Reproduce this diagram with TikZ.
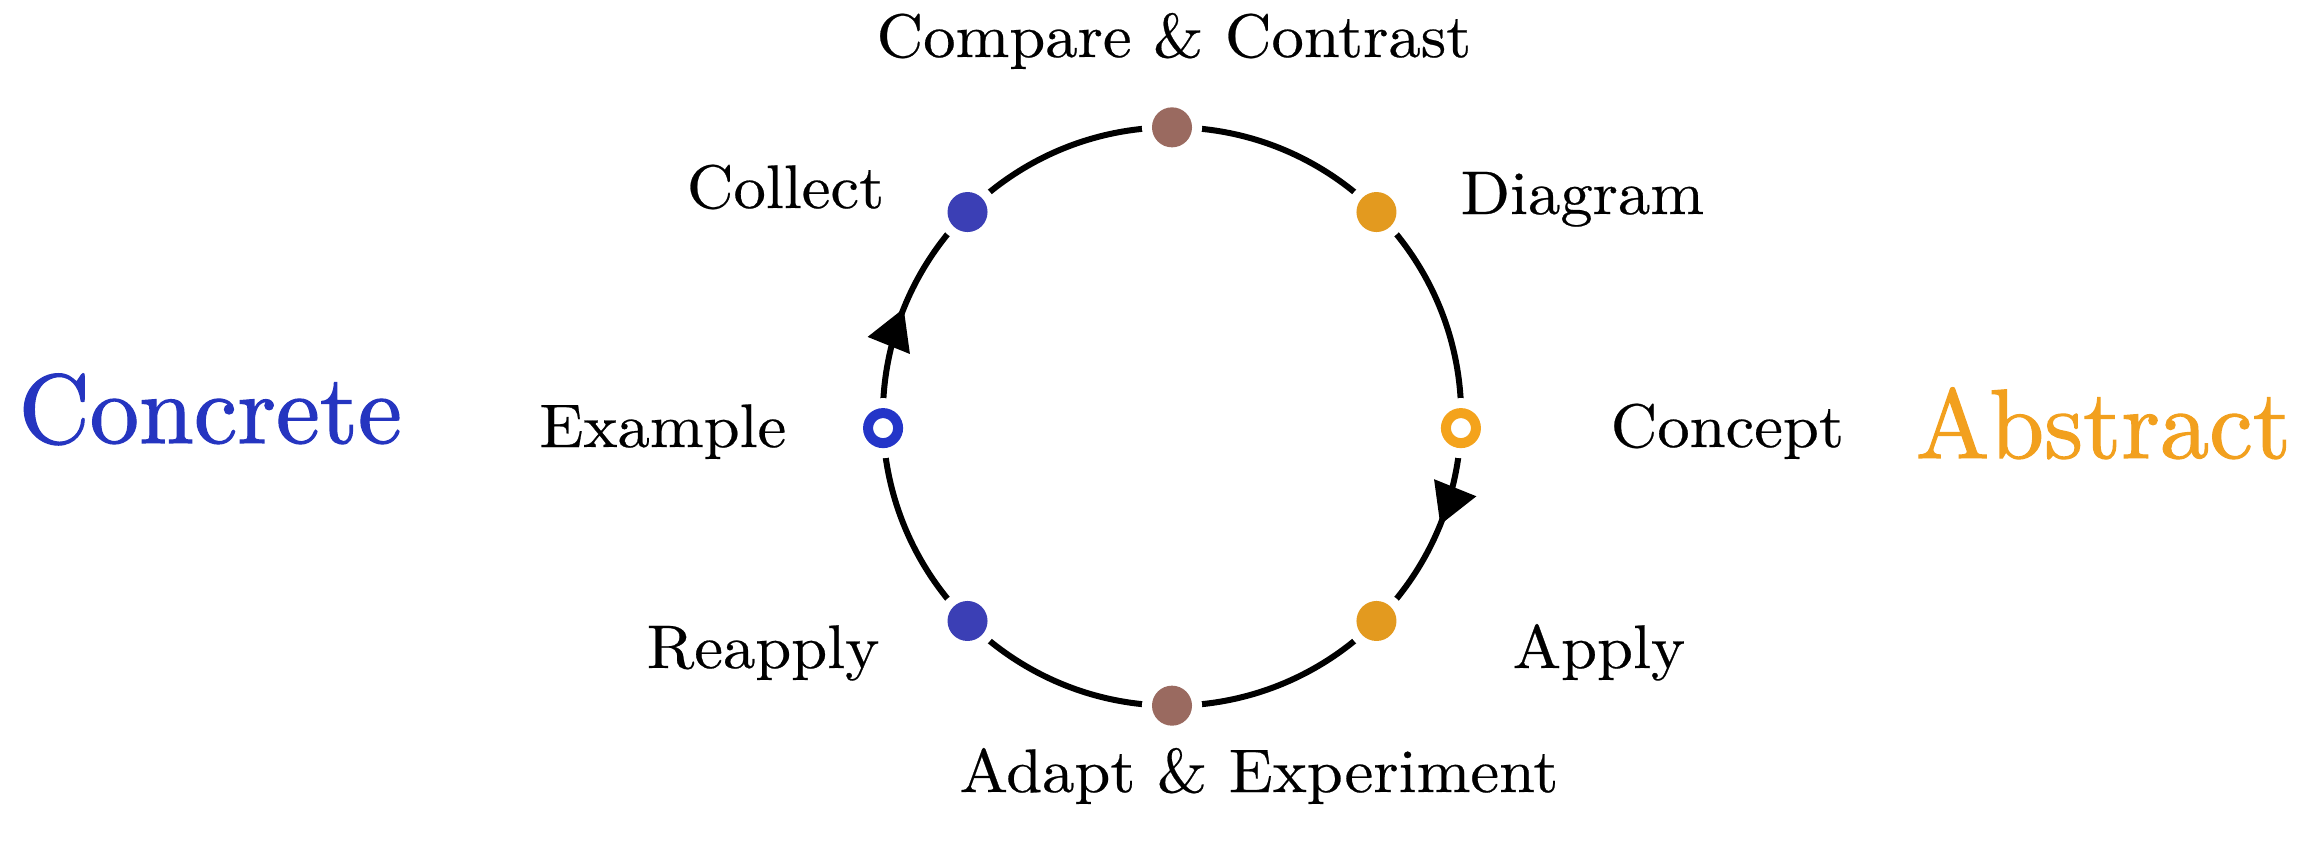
\documentclass[tikz,border=0pt]{standalone}
\usepackage{fontspec}
\newfontfamily\lblfont{lmroman10-regular.otf}[FakeStretch=1.05,FakeBold=0.4]
\newfontfamily\bigfont{lmroman10-regular.otf}[FakeBold=1.2]
\usetikzlibrary{decorations.markings,arrows.meta}
\definecolor{cblue}{HTML}{3B3FB5}
\definecolor{ringblue}{HTML}{2435C8}
\definecolor{corange}{HTML}{E39A1F}
\definecolor{ringorange}{HTML}{F4A31C}
\definecolor{cbrown}{HTML}{9A6A60}
\definecolor{txtblue}{HTML}{2535C0}
\definecolor{txtorange}{HTML}{F2A01E}
\begin{document}
\begin{tikzpicture}[x=0.01cm,y=0.01cm,
  soliddot/.style={circle, inner sep=0pt, minimum size=0.4cm, fill=#1,
    preaction={draw=white, line width=0.2cm}},
  ringdot/.style={circle, inner sep=0pt, minimum size=0.3cm, draw=#1, fill=white,
    line width=0.1cm, preaction={draw=white, line width=0.3cm}},
  lbl/.style={inner sep=0pt, font=\lblfont\fontsize{17.5}{21}\selectfont},
  bigl/.style={inner sep=0pt, font=\bigfont\fontsize{28}{34}\selectfont},
  cycleline/.style={line width=0.06cm, draw=black,
    decoration={markings,
      mark=at position 0.0611 with {\arrow{Triangle[length=0.4cm,width=0.44cm]}},
      mark=at position 0.561 with {\arrow{Triangle[length=0.4cm,width=0.44cm]}}},
    postaction={decorate}}]
\useasboundingbox (0,0) rectangle (2323,853);
\coordinate (c) at (1172,436.5);
% cycle
\draw[cycleline] ([shift={(0:2.89cm)}]c) arc[start angle=0, end angle=-360, radius=2.89cm];
% dots
\node[soliddot=cbrown] (top) at ([shift={(90:2.89cm)}]c) {};
\node[soliddot=corange] (diag) at ([shift={(45:2.89cm)}]c) {};
\node[ringdot=ringorange] (conc) at ([shift={(-2.3:2.89cm)}]c) {};
\node[soliddot=corange] (appl) at ([shift={(-45:2.89cm)}]c) {};
\node[soliddot=cbrown] (bot) at ([shift={(-90:2.89cm)}]c) {};
\node[soliddot=cblue] (reap) at ([shift={(-135:2.89cm)}]c) {};
\node[ringdot=ringblue] (exam) at ([shift={(182.3:2.89cm)}]c) {};
\node[soliddot=cblue] (coll) at ([shift={(135:2.89cm)}]c) {};
% labels
\node[lbl, anchor=base] (tcmp) at (1174,796) {Compare \& Contrast};
\node[lbl, anchor=base east] (tcoll) at (885,645) {Collect};
\node[lbl, anchor=base west] (tdiag) at (1460,639) {Diagram};
\node[lbl, anchor=base east] (texam) at (787,406) {Example};
\node[lbl, anchor=base west] (tconc) at (1610,406) {Concept};
\node[lbl, anchor=base east] (treap) at (880,185) {Reapply};
\node[lbl, anchor=base west] (tappl) at (1512,185) {Apply};
\node[lbl, anchor=base] (tadap) at (1259,61) {Adapt \& Experiment};
\node[bigl, anchor=base west, text=txtblue] (tconcrete) at (18,410) {Concrete};
\node[bigl, anchor=base west, text=txtorange] (tabstract) at (1915,395) {Abstract};
\end{tikzpicture}
\end{document}
